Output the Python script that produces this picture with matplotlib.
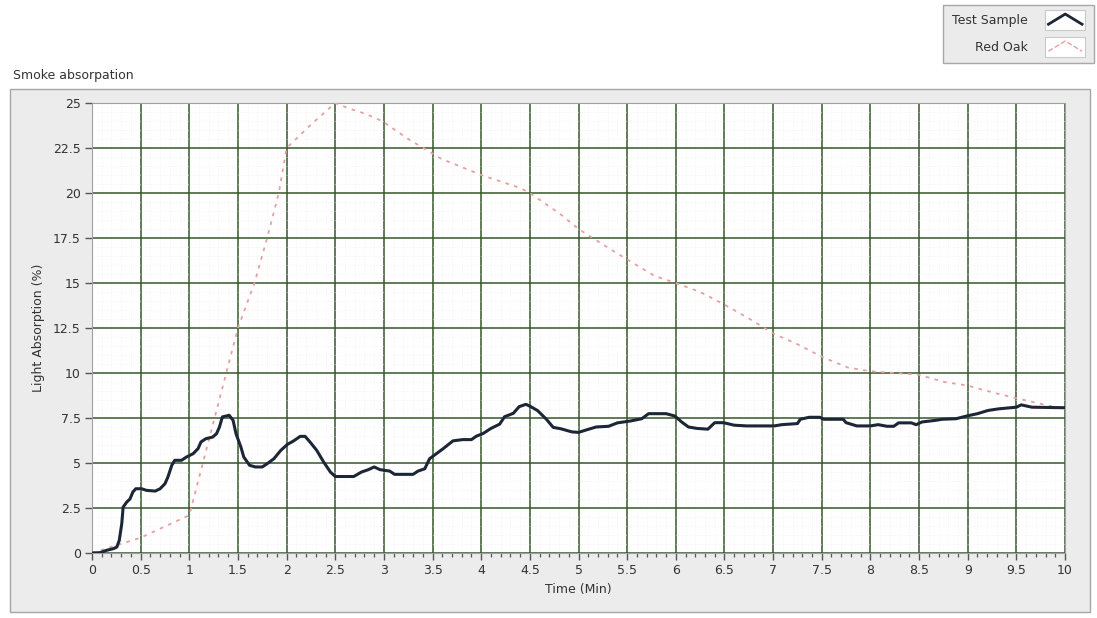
import matplotlib
matplotlib.use("Agg")
import matplotlib.pyplot as plt
from matplotlib.lines import Line2D
from matplotlib.patches import Rectangle
from matplotlib.legend_handler import HandlerBase
from matplotlib.ticker import MultipleLocator, FuncFormatter

# Test sample readings (minutes, % light absorption)
time_test = [
    0, 0.085, 0.15, 0.22, 0.255, 0.28, 0.306, 0.32, 0.357, 0.39,
    0.42, 0.45, 0.51, 0.56, 0.65, 0.70, 0.75, 0.78, 0.82, 0.85,
    0.92, 0.97, 1.04, 1.09, 1.12, 1.17, 1.24, 1.28, 1.31, 1.34,
    1.41, 1.45, 1.48, 1.53, 1.56, 1.62, 1.68, 1.75, 1.80, 1.87,
    1.94, 2.01, 2.07, 2.14, 2.19, 2.24, 2.31, 2.38, 2.45, 2.50,
    2.69, 2.77, 2.84, 2.90, 2.96, 3.06, 3.11, 3.30, 3.35, 3.42,
    3.47, 3.54, 3.61, 3.71, 3.81, 3.90, 3.95, 4.02, 4.10, 4.19,
    4.24, 4.33, 4.39, 4.46, 4.51, 4.58, 4.67, 4.74, 4.82, 4.93,
    5.00, 5.07, 5.18, 5.31, 5.40, 5.54, 5.65, 5.72, 5.90, 5.99,
    6.06, 6.13, 6.22, 6.33, 6.40, 6.49, 6.60, 6.73, 7.01, 7.09,
    7.25, 7.28, 7.37, 7.48, 7.52, 7.72, 7.75, 7.86, 8.00, 8.08,
    8.17, 8.24, 8.29, 8.42, 8.47, 8.53, 8.67, 8.74, 8.88, 8.99,
    9.10, 9.21, 9.32, 9.50, 9.55, 9.66, 10.0,
]
absorption_test = [
    0, 0.02, 0.15, 0.24, 0.33, 0.7, 1.63, 2.55, 2.83, 3.0,
    3.39, 3.57, 3.57, 3.48, 3.44, 3.57, 3.85, 4.22, 4.87, 5.15,
    5.15, 5.33, 5.52, 5.8, 6.17, 6.35, 6.44, 6.63, 7.0, 7.56,
    7.65, 7.37, 6.63, 5.89, 5.33, 4.87, 4.78, 4.78, 4.96, 5.24,
    5.7, 6.04, 6.22, 6.48, 6.48, 6.17, 5.7, 5.06, 4.5, 4.25,
    4.25, 4.5, 4.63, 4.78, 4.63, 4.55, 4.37, 4.37, 4.55, 4.68,
    5.24, 5.52, 5.8, 6.23, 6.3, 6.3, 6.49, 6.64, 6.92, 7.16,
    7.57, 7.76, 8.13, 8.26, 8.13, 7.91, 7.43, 6.98, 6.9, 6.73,
    6.7, 6.82, 7.0, 7.04, 7.23, 7.34, 7.46, 7.74, 7.74, 7.61,
    7.28, 7.0, 6.92, 6.88, 7.24, 7.24, 7.1, 7.06, 7.06, 7.13,
    7.19, 7.43, 7.54, 7.54, 7.43, 7.43, 7.24, 7.06, 7.06, 7.13,
    7.04, 7.04, 7.23, 7.23, 7.13, 7.28, 7.37, 7.43, 7.46, 7.61,
    7.74, 7.92, 8.01, 8.1, 8.23, 8.1, 8.07,
]

# Red oak reference curve
time_oak = [
    0, 0.5, 1.0, 1.5, 1.67, 1.8, 1.92, 2.0, 2.25, 2.5,
    2.64, 2.81, 2.98, 3.25, 3.59, 4.0, 4.39, 4.5, 4.82, 5.0,
    5.38, 5.78, 6.0, 6.25, 6.5, 6.76, 7.0, 7.25, 7.5, 7.77,
    8.0, 8.5, 8.76, 9.0, 9.27, 9.5, 9.74, 10.0,
]
absorption_oak = [
    0, 0.85, 2.1, 12.5, 15.0, 17.5, 20.0, 22.5, 23.8, 25.0,
    24.7, 24.4, 24.0, 23.0, 21.9, 21.0, 20.3, 20.0, 18.8, 18.0,
    16.7, 15.4, 15.0, 14.5, 13.8, 13.0, 12.2, 11.6, 10.9, 10.3,
    10.1, 9.9, 9.5, 9.3, 8.9, 8.6, 8.3, 8.0,
]

series_labels = ["Test Sample", "Red Oak"]

W, H = 1097, 618
TEST_COLOR = "#1d2636"
OAK_COLOR = "#e7a0a0"
GRID_COLOR = "#36562a"
TEXT_COLOR = "#333333"


class CaretHandler(HandlerBase):
    # LabVIEW style legend icon: white box with a small caret-shaped line
    def create_artists(self, legend, orig_handle, xdescent, ydescent,
                       width, height, fontsize, trans):
        x0, y0 = -xdescent, -ydescent - 0.35 * height
        h = height * 1.7
        box = Rectangle((x0, y0), width, h, facecolor="white",
                        edgecolor="#c9c9c9", lw=0.8, transform=trans)
        xs = [x0 + 0.08 * width, x0 + 0.5 * width, x0 + 0.92 * width]
        ys = [y0 + 0.28 * h, y0 + 0.78 * h, y0 + 0.28 * h]
        line = Line2D(xs, ys, color=orig_handle.get_color(),
                      lw=orig_handle.get_linewidth(),
                      ls=orig_handle.get_linestyle(), transform=trans)
        return [box, line]


def fx(px):
    return px / W


def fy(py):
    return 1 - py / H


fig = plt.figure(figsize=(W / 100, H / 100), dpi=100)
fig.patch.set_facecolor("white")

# grey graph panel
panel = Rectangle((fx(10), fy(612)), fx(1090) - fx(10), fy(89) - fy(612),
                  transform=fig.transFigure, facecolor="#edecec",
                  edgecolor="#a6a6a6", lw=1.0, zorder=-1)
fig.patches.append(panel)

ax = fig.add_axes([fx(92), fy(553), fx(1065) - fx(92), fy(103) - fy(553)])
ax.set_facecolor("white")

ax.plot(time_oak, absorption_oak, color=OAK_COLOR, lw=1.3,
        ls=(0, (2, 3)), zorder=3)
ax.plot(time_test, absorption_test, color=TEST_COLOR, lw=2.2, zorder=4)

ax.set_xlim(0, 10)
ax.set_ylim(0, 25)
ax.xaxis.set_major_locator(MultipleLocator(0.5))
ax.xaxis.set_minor_locator(MultipleLocator(0.1))
ax.yaxis.set_major_locator(MultipleLocator(2.5))
ax.yaxis.set_minor_locator(MultipleLocator(0.5))
fmt = FuncFormatter(lambda v, pos: "%g" % v)
ax.xaxis.set_major_formatter(fmt)
ax.yaxis.set_major_formatter(fmt)

ax.grid(which="major", color=GRID_COLOR, lw=1.1, zorder=1)
ax.grid(which="minor", color="#f0f0f0", lw=0.5, ls=":", zorder=0)
ax.set_axisbelow(True)

ax.tick_params(which="major", direction="out", length=5, width=1.0,
               color="#555555", labelsize=9, labelcolor=TEXT_COLOR, pad=3)
ax.tick_params(axis="x", which="minor", direction="out", length=3,
               width=0.9, color="#555555")
ax.tick_params(axis="y", which="minor", length=0)
for sp in ax.spines.values():
    sp.set_color("#a0a0a0")
    sp.set_linewidth(0.8)

ax.set_xlabel("Time (Min)", fontsize=9, color=TEXT_COLOR, labelpad=4)
ax.set_ylabel("Light Absorption (%)", fontsize=9, color=TEXT_COLOR,
              labelpad=6)

fig.text(fx(13), fy(76), "Smoke absorpation", fontsize=9,
         color=TEXT_COLOR, ha="left", va="center")

handles = [Line2D([], [], color=TEST_COLOR, lw=2.0),
           Line2D([], [], color=OAK_COLOR, lw=1.0, ls=(0, (1.5, 2)))]
leg = fig.legend(handles, series_labels, loc="upper right",
                 bbox_to_anchor=(fx(1094), fy(5)), markerfirst=False,
                 handler_map={Line2D: CaretHandler()}, fontsize=9,
                 frameon=True, fancybox=False, framealpha=1,
                 facecolor="#ebebeb", edgecolor="#a8a8a8",
                 handlelength=3.2, handleheight=1.1, labelspacing=1.1,
                 borderpad=0.7, handletextpad=1.4, borderaxespad=0)
leg._legend_box.align = "left"
for t in leg.get_texts():
    t.set_color(TEXT_COLOR)
    t.set_ha("left")

fig.savefig("out.png", dpi=100)
